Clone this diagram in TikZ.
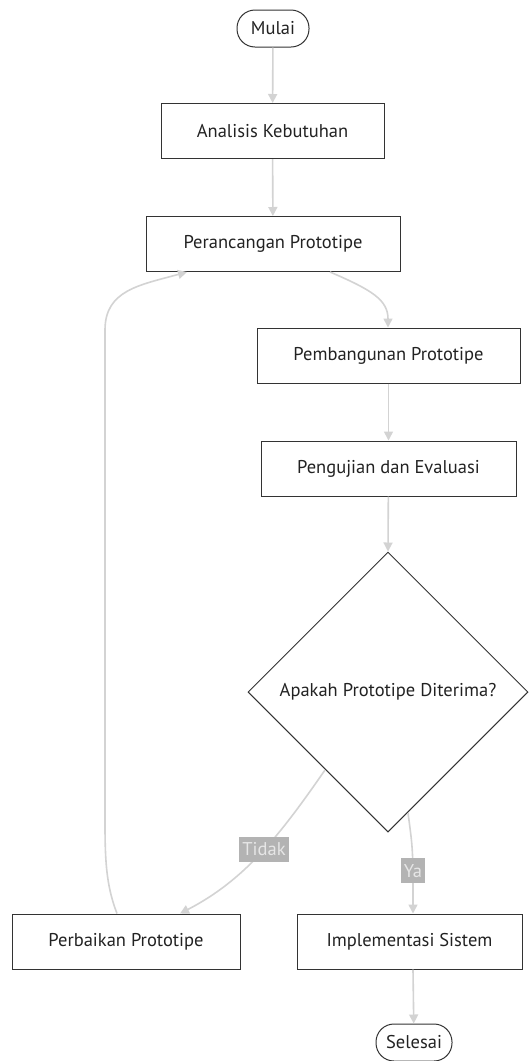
\documentclass[tikz,border=0pt]{standalone}
\usepackage{fontspec}
\setmainfont{PT Sans}
\usetikzlibrary{shapes.geometric,arrows.meta}
\definecolor{edgegray}{HTML}{D3D3D3}
\definecolor{labelbg}{HTML}{B3B3B3}
\definecolor{labeltext}{HTML}{E6E6E6}
\definecolor{border}{HTML}{333333}
\definecolor{txt}{HTML}{222222}
\tikzset{
  nodefont/.style={font=\fontsize{18.5}{21}\selectfont, text=txt},
  procbox/.style={draw=border, line width=1pt, rectangle, minimum height=55pt, nodefont, inner sep=0pt},
  termbox/.style={draw=border, line width=1pt, rectangle, rounded corners=18pt, minimum height=37pt, inner sep=0pt, nodefont},
  decbox/.style={draw=border, line width=1pt, diamond, minimum width=280pt, minimum height=280pt, inner sep=0pt, nodefont},
  flow/.style={draw=edgegray, line width=1.6pt, -{Triangle[length=9pt,width=9pt]}},
  edgelabel/.style={fill=labelbg, text=labeltext, inner xsep=3pt, minimum height=25pt, font=\fontsize{18.5}{21}\selectfont}
}
\begin{document}
\begin{tikzpicture}[x=1pt,y=-1pt]
\useasboundingbox (0,0) rectangle (528,1061);
\node[termbox, minimum width=72pt] (mulai) at (273,28.5) {Mulai};
\node[procbox, minimum width=223pt] (ana) at (272.5,131) {Analisis Kebutuhan};
\node[procbox, minimum width=254pt] (per) at (273,244) {Perancangan Prototipe};
\node[procbox, minimum width=263pt] (pem) at (388.5,355.5) {Pembangunan Prototipe};
\node[procbox, minimum width=255pt] (uji) at (388.5,468.5) {Pengujian dan Evaluasi};
\node[decbox] (dec) at (388,692) {Apakah Prototipe Diterima?};
\node[procbox, minimum width=228pt] (perb) at (126,941.5) {Perbaikan Prototipe};
\node[procbox, minimum width=225pt] (impl) at (409.5,941.5) {Implementasi Sistem};
\node[termbox, minimum width=76pt] (sel) at (414,1042.5) {Selesai};
\coordinate (tstart) at (325,770);
\coordinate (ystart) at (408,813);

\draw[flow] (mulai) -- (ana);
\draw[flow] (ana) -- (per);
\draw[flow] ([xshift=57pt]per.south) .. controls (372,290) and (388,300) .. ([xshift=-0.5pt]pem.north);
\draw[flow] (pem) -- (uji);
\draw[flow] (uji) -- (dec.north);
\draw[flow] (tstart) .. controls (280,835) and (245,880) .. ([xshift=54pt]perb.north) node[pos=0.47, edgelabel] (tidak) {Tidak};
\draw[flow] (ystart) .. controls (413,850) .. ([xshift=3.5pt]impl.north) node[pos=0.7, edgelabel] (ya) {Ya};
\draw[flow] ([xshift=-9pt]perb.north) .. controls (104,880) and (105,850) .. (105,800) -- (105,330) .. controls (105,290) and (140,285) .. ([xshift=-86pt]per.south);
\draw[flow] ([xshift=3.5pt]impl.south) -- (sel);
\end{tikzpicture}
\end{document}
